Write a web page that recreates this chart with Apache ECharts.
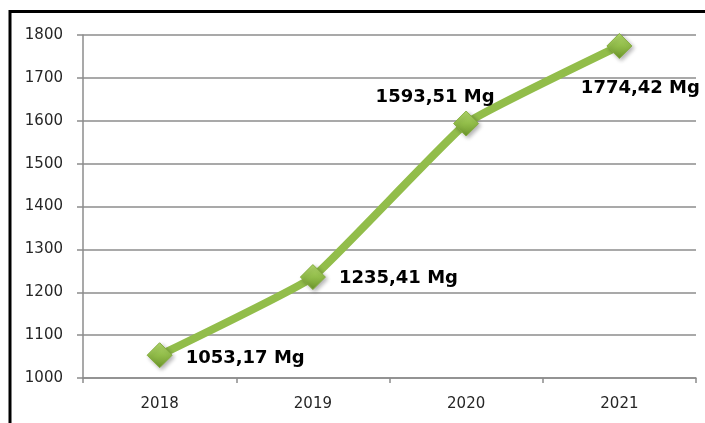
<!DOCTYPE html>
<html>
<head>
<meta charset="utf-8">
<script src="https://cdn.jsdelivr.net/npm/echarts@6/dist/echarts.min.js"></script>
<style>
  html, body { margin: 0; padding: 0; background: #fff; }
  #chart { width: 705px; height: 423px; }
</style>
</head>
<body>
<div id="chart"></div>
<script>
const years = ['2018', '2019', '2020', '2021'];
const mass = [1053.17, 1235.41, 1593.51, 1774.42];
const massLabels = ['1053,17 Mg', '1235,41 Mg', '1593,51 Mg', '1774,42 Mg'];
const labelPlace = [
  { position: 'right', offset: [3, 3] },
  { position: 'right', offset: [3, 1] },
  { position: 'top', offset: [-31, 6] },
  { position: 'bottom', offset: [21, 10] },
];

const myChart = echarts.init(document.getElementById('chart'));

const option = {
  animation: false,
  grid: { left: 83, right: 9, top: 35, bottom: 45 },
  graphic: [{
    type: 'rect',
    shape: { x: 10, y: 11.5, width: 800, height: 500 },
    style: { fill: 'none', stroke: '#000', lineWidth: 3 },
    silent: true,
  }],
  xAxis: {
    type: 'category',
    data: years,
    boundaryGap: true,
    axisLine: { lineStyle: { color: '#8c8c8c', width: 1.5 } },
    axisTick: { show: true, length: 5, lineStyle: { color: '#8c8c8c', width: 1.5 } },
    axisLabel: { color: '#262626', fontSize: 15, margin: 19, fontFamily: 'DejaVu Sans' },
  },
  yAxis: {
    type: 'value',
    min: 1000,
    max: 1800,
    interval: 100,
    axisLine: { show: true, lineStyle: { color: '#8c8c8c', width: 1.5 } },
    axisTick: { show: true, length: 6, lineStyle: { color: '#8c8c8c', width: 1.5 } },
    splitLine: { lineStyle: { color: '#8c8c8c', width: 1.5 } },
    axisLabel: {
      color: '#262626', fontSize: 15, margin: 20, fontFamily: 'DejaVu Sans',
      formatter: v => String(v),
    },
  },
  series: [{
    type: 'line',
    data: mass.map((v, i) => ({
      value: v,
      label: {
        show: true,
        formatter: massLabels[i],
        position: labelPlace[i].position,
        offset: labelPlace[i].offset,
      },
    })),
    smooth: 0.1,
    lineStyle: { color: '#92bd4a', width: 8 },
    symbol: 'diamond',
    symbolSize: 25,
    itemStyle: {
      color: new echarts.graphic.LinearGradient(0, 0, 0, 1, [
        { offset: 0, color: '#b2d86c' },
        { offset: 0.5, color: '#92bd4a' },
        { offset: 1, color: '#6c952b' },
      ]),
      borderColor: '#84ad3e',
      borderWidth: 1,
      shadowColor: 'rgba(0,0,0,0.3)',
      shadowBlur: 4,
      shadowOffsetX: 2,
      shadowOffsetY: 2,
    },
    label: {
      color: '#000',
      fontSize: 18,
      fontWeight: 'bold',
      fontFamily: 'DejaVu Sans',
      distance: 10,
    },
  }],
};

myChart.setOption(option);
window.addEventListener('resize', myChart.resize);
</script>
</body>
</html>
